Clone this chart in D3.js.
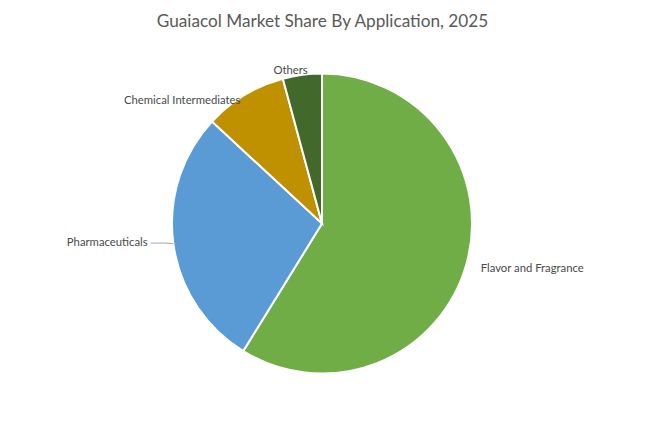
<!DOCTYPE html>
<html>
<head>
<meta charset="utf-8">
<script src="https://cdn.jsdelivr.net/npm/d3@7"></script>
<style>
  body { margin: 0; background: #fff; }
  svg { font-family: Lato, "Open Sans", sans-serif; }
</style>
</head>
<body>
<svg id="chart"></svg>
<script>
// data
const categories = ['Flavor and Fragrance', 'Pharmaceuticals', 'Chemical Intermediates', 'Others'];
const shares = [58.8, 28.1, 8.9, 4.2];
const colors = ['#70AD47', '#5B9BD5', '#BF9000', '#43682B'];

const width = 645, height = 422;
const cx = 322, cy = 223.5, radius = 150;

// label placement: radius, anchor and small nudge per slice
const labelPos = [
    { r: 165, anchor: 'start', dx: 0, dy: 0, leader: false },
    { r: 175, anchor: 'end', dx: -1, dy: -5, leader: true },
    { r: 150, anchor: 'end', dx: -4, dy: 5, leader: false },
    { r: 155, anchor: 'middle', dx: -11, dy: 0, leader: false }
];

const svg = d3.select('#chart')
    .attr('width', width)
    .attr('height', height);

svg.append('text')
    .attr('x', width / 2)
    .attr('y', 27)
    .attr('text-anchor', 'middle')
    .attr('fill', '#595959')
    .style('font-size', '17.2px')
    .text('Guaiacol Market Share By Application, 2025');

const data = categories.map((c, i) => ({ label: c, value: shares[i], color: colors[i], pos: labelPos[i] }));

const pie = d3.pie()
    .sort(null)
    .value(d => d.value);

const arc = d3.arc()
    .innerRadius(0)
    .outerRadius(radius);

const g = svg.append('g')
    .attr('transform', `translate(${cx}, ${cy})`);

const arcs = pie(data);

g.selectAll('path')
    .data(arcs)
    .enter()
    .append('path')
    .attr('d', arc)
    .attr('fill', d => d.data.color)
    .attr('stroke', 'white')
    .style('stroke-width', '2px');

function polar(a, r) {
    return [Math.sin(a) * r, -Math.cos(a) * r];
}

arcs.forEach(d => {
    const mid = (d.startAngle + d.endAngle) / 2;
    const p = d.data.pos;
    const [x, y] = polar(mid, p.r);
    const tx = x + p.dx, ty = y + p.dy;

    if (p.leader) {
        const [ex, ey] = polar(mid, radius);
        g.append('path')
            .attr('d', `M${ex},${ey} L${ex - 8},${ty + 1} L${tx + 3},${ty + 1}`)
            .attr('fill', 'none')
            .attr('stroke', '#a6a6a6')
            .attr('stroke-width', 1);
    }

    g.append('text')
        .attr('x', tx)
        .attr('y', ty)
        .attr('dy', '0.35em')
        .attr('text-anchor', p.anchor)
        .attr('fill', '#4a4a4a')
        .style('font-size', '11.3px')
        .text(d.data.label);
});
</script>
</body>
</html>
